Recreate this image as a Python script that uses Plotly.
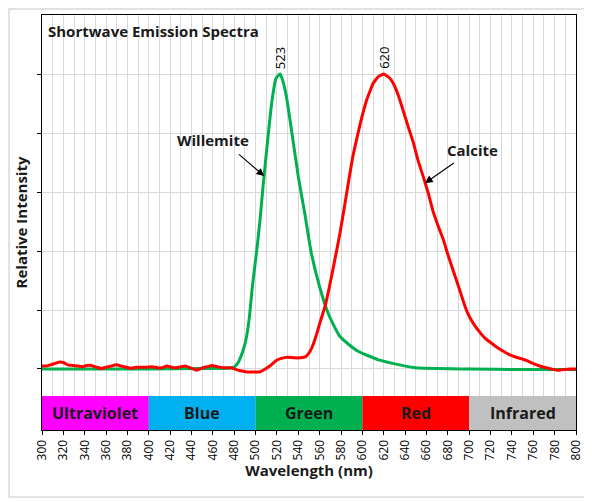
import plotly.graph_objects as go

# wavelengths (nm) and relative intensity
willemite_nm = [300, 350, 400, 450, 470, 478, 481, 484, 488, 491, 494, 497, 501, 504,
                507, 510, 512, 515, 519, 523, 526, 529, 534, 540, 546, 552, 560, 568,
                579, 595, 616, 635, 650, 700, 750, 800]
willemite_val = [0.0, 0.0, 0.0, 0.01, 0.01, 0.02, 0.05, 0.12, 0.3, 0.5, 0.85, 1.4, 2.0, 2.5,
                 3.1, 3.65, 4.0, 4.5, 4.92, 5.0, 4.85, 4.6, 4.0, 3.26, 2.64, 1.98, 1.39, 0.94,
                 0.55, 0.31, 0.15, 0.07, 0.02, 0.0, -0.01, -0.01]

calcite_nm = [300, 304, 308, 313, 317, 320, 324, 329, 333, 338, 342, 346, 351, 356, 360,
              365, 370, 374, 379, 383, 388, 393, 398, 403, 408, 412, 417, 423, 428, 434,
              439, 445, 450, 455, 459, 464, 470, 477, 482, 486, 492, 498, 504, 509, 514,
              519, 524, 530, 536, 542, 547, 551, 554, 557, 560, 565, 571, 579, 585, 591,
              598, 604, 610, 615, 620, 625, 629, 634, 638, 643, 648, 652, 657, 662, 666,
              671, 676, 680, 685, 690, 695, 699, 704, 710, 715, 720, 726, 732, 738, 744,
              750, 754, 760, 766, 772, 777, 782, 788, 794, 800]
calcite_val = [0.05, 0.05, 0.07, 0.1, 0.12, 0.11, 0.07, 0.06, 0.05, 0.04, 0.06, 0.06, 0.03,
               0.01, 0.03, 0.05, 0.07, 0.05, 0.03, 0.01, 0.03, 0.03, 0.03, 0.04, 0.02, 0.02,
               0.05, 0.02, 0.03, 0.05, 0.02, -0.02, 0.02, 0.04, 0.06, 0.04, 0.02, 0.02,
               -0.01, -0.03, -0.05, -0.05, -0.05, 0.0, 0.06, 0.14, 0.18, 0.2, 0.19, 0.19,
               0.21, 0.3, 0.42, 0.58, 0.77, 1.06, 1.56, 2.3, 2.95, 3.6, 4.16, 4.56, 4.84,
               4.96, 5.0, 4.94, 4.84, 4.62, 4.39, 4.1, 3.82, 3.54, 3.26, 2.96, 2.68, 2.42,
               2.18, 1.94, 1.67, 1.4, 1.12, 0.93, 0.77, 0.62, 0.52, 0.45, 0.37, 0.3, 0.24,
               0.2, 0.17, 0.14, 0.09, 0.05, 0.02, 0.0, -0.02, -0.01, 0.0, 0.0]

bands = ["Ultraviolet", "Blue", "Green", "Red", "Infrared"]
band_start = [300, 400, 500, 600, 700]
band_end = [400, 500, 600, 700, 800]
band_colors = ["#FF00FF", "#00B0F0", "#00B050", "#FF0000", "#C0C0C0"]

peaks_nm = [523, 620]

FONT = "Open Sans"
TXT = "#1a1a1a"
GRID = "#D9D9D9"
band_top, band_bottom = -0.458, -1.034

# page body has an 8px margin, so the figure is 8px smaller than the window
W, H = 584, 494
L, R, T, B = 34, 16, 7, 72
PW, PH = W - L - R, H - T - B

fig = go.Figure()
fig.add_trace(go.Scatter(x=willemite_nm, y=willemite_val, mode="lines", name="Willemite",
                         line=dict(color="#00B050", width=3, shape="spline", smoothing=0.5)))
fig.add_trace(go.Scatter(x=calcite_nm, y=calcite_val, mode="lines", name="Calcite",
                         line=dict(color="#FF0000", width=3, shape="spline", smoothing=0.3)))

shapes = []
annotations = []
for name, x0, x1, c in zip(bands, band_start, band_end, band_colors):
    shapes.append(dict(type="rect", xref="x", yref="y", x0=x0, x1=x1,
                       y0=band_bottom, y1=band_top, fillcolor=c, line_width=0, layer="above"))
    annotations.append(dict(x=(x0 + x1) / 2, y=(band_top + band_bottom) / 2, xref="x", yref="y",
                            text="<b>%s</b>" % name, showarrow=False,
                            font=dict(family=FONT, size=16, color=TXT)))

# outer light frame
shapes.append(dict(type="rect", xref="paper", yref="paper",
                   x0=(1 - L) / PW, x1=(W - 4 - L) / PW,
                   y0=-(B - 5) / PH, y1=(PH + T - 1) / PH,
                   line=dict(color=GRID, width=1.5), layer="below"))

for p in peaks_nm:
    annotations.append(dict(x=p, y=5.05, xref="x", yref="y", text=str(p), textangle=-90,
                            showarrow=False, yanchor="bottom",
                            font=dict(family=FONT, size=13, color="black")))

annotations += [
    dict(x=0.008, y=0.99, xref="paper", yref="paper", xanchor="left", yanchor="top",
         text="<b>Shortwave Emission Spectra</b>", showarrow=False,
         font=dict(family=FONT, size=15, color=TXT)),
    dict(x=460, y=3.88, xref="x", yref="y", text="<b>Willemite</b>", showarrow=False,
         font=dict(family=FONT, size=15, color=TXT)),
    dict(x=508, y=3.27, ax=483, ay=3.66, xref="x", yref="y", axref="x", ayref="y", text="",
         showarrow=True, arrowhead=2, arrowsize=1.4, arrowwidth=1.1, arrowcolor="black"),
    dict(x=703, y=3.72, xref="x", yref="y", text="<b>Calcite</b>", showarrow=False,
         font=dict(family=FONT, size=15, color=TXT)),
    dict(x=658.6, y=3.15, ax=687, ay=3.51, xref="x", yref="y", axref="x", ayref="y", text="",
         showarrow=True, arrowhead=2, arrowsize=1.4, arrowwidth=1.1, arrowcolor="black"),
]

fig.update_layout(
    width=W, height=H,
    margin=dict(l=L, r=R, t=T, b=B, autoexpand=False),
    paper_bgcolor="white", plot_bgcolor="white",
    showlegend=False,
    font=dict(family=FONT, color=TXT),
    shapes=shapes, annotations=annotations,
)
fig.update_xaxes(range=[300, 800], tickmode="linear", tick0=300, dtick=20,
                 tickangle=-90, tickfont=dict(size=12, color="black"),
                 showgrid=True, gridcolor=GRID, gridwidth=1,
                 minor=dict(tickmode="linear", tick0=300, dtick=10, showgrid=True,
                            gridcolor=GRID, gridwidth=1),
                 ticks="outside", ticklen=4, tickcolor="black",
                 showline=True, linecolor="black", linewidth=1, mirror=True,
                 zeroline=False, automargin=False,
                 title=dict(text="<b>Wavelength (nm)</b>", font=dict(size=15, color=TXT),
                            standoff=6))
fig.update_yaxes(range=[band_bottom, 6], tickmode="array", tickvals=[0, 1, 2, 3, 4, 5],
                 showticklabels=False, ticks="outside", ticklen=4, tickcolor="black",
                 showgrid=True, gridcolor=GRID, gridwidth=1,
                 showline=True, linecolor="black", linewidth=1, mirror=True,
                 zeroline=False, automargin=False,
                 title=dict(text="<b>Relative Intensity</b>", font=dict(size=15, color=TXT),
                            standoff=5))

fig.write_html("out.html")
